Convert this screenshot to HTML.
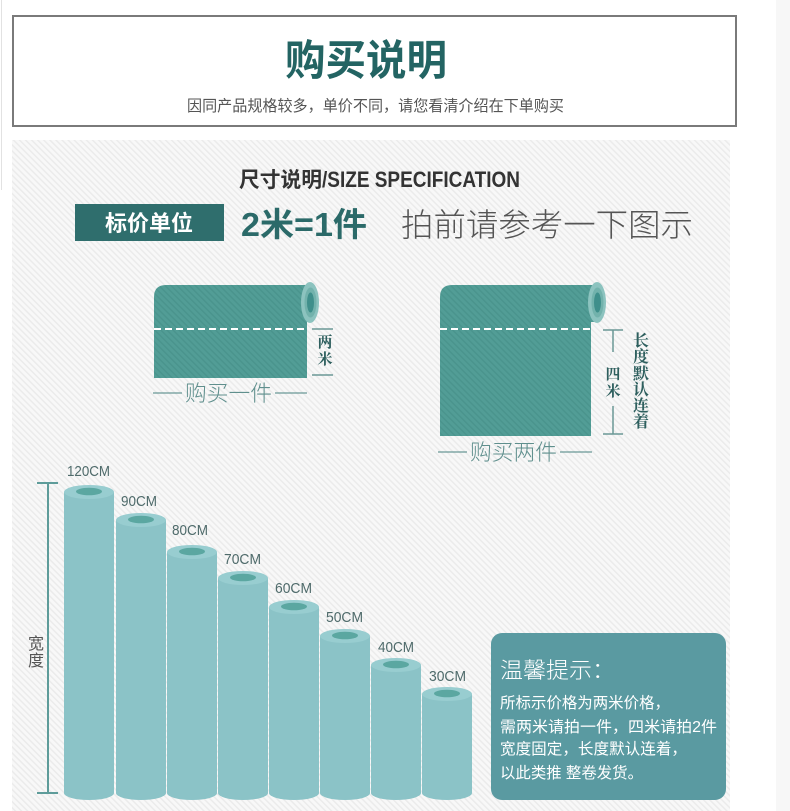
<!DOCTYPE html>
<html><head><meta charset="utf-8"><style>
html,body{margin:0;padding:0;background:#fff;}
body{width:790px;height:811px;overflow:hidden;}
svg{display:block;}
text{font-family:"Liberation Sans","Noto Sans CJK SC",sans-serif;}
.serif{font-family:"Liberation Serif","Noto Serif CJK SC",serif;font-weight:bold;}
</style></head><body>
<svg width="790" height="811" viewBox="0 0 790 811" xmlns="http://www.w3.org/2000/svg">
<defs>
<pattern id="hatch" patternUnits="userSpaceOnUse" width="4.3" height="10" patternTransform="rotate(-45)">
<rect width="4.3" height="10" fill="#f8f8f8"/>
<rect x="0" y="0" width="1.5" height="10" fill="#ebebeb"/>
</pattern>
<pattern id="rollhatch" patternUnits="userSpaceOnUse" width="4.3" height="10" patternTransform="rotate(-45)">
<rect width="4.3" height="10" fill="#529d96"/>
<rect x="0" y="0" width="1.5" height="10" fill="#4a948d"/>
</pattern>
</defs>

<!-- page background -->
<rect x="0" y="0" width="790" height="811" fill="#ffffff"/>
<rect x="776" y="0" width="14" height="811" fill="#f7f7f7"/>
<rect x="1" y="0" width="1" height="190" fill="#e2e2e2"/>

<!-- header box -->
<rect x="13" y="16" width="723" height="110" fill="#ffffff" stroke="#7a7a7a" stroke-width="2"/>
<text x="285" y="75" font-size="42" font-weight="bold" fill="#236463" textLength="162" lengthAdjust="spacingAndGlyphs">购买说明</text>
<text x="187" y="111" font-size="15.5" fill="#555555" textLength="377" lengthAdjust="spacingAndGlyphs">因同产品规格较多，单价不同，请您看清介绍在下单购买</text>

<!-- hatched area -->
<rect x="12" y="140" width="718" height="671" fill="url(#hatch)"/>

<!-- size spec title -->
<text x="239" y="187" font-size="21" font-weight="bold" fill="#333333" textLength="83" lengthAdjust="spacingAndGlyphs">尺寸说明</text>
<text x="322" y="187" font-size="22" font-weight="bold" fill="#333333" textLength="198" lengthAdjust="spacingAndGlyphs">/SIZE SPECIFICATION</text>

<!-- price unit row -->
<rect x="75" y="204" width="149" height="37" fill="#2f6e6d"/>
<text x="105" y="231" font-size="22" font-weight="bold" fill="#ffffff" textLength="88" lengthAdjust="spacingAndGlyphs">标价单位</text>
<text x="241" y="236" font-size="33" font-weight="bold" fill="#2b6a69" textLength="126" lengthAdjust="spacingAndGlyphs">2米=1件</text>
<text x="401" y="236" font-size="32" font-weight="300" fill="#555555" textLength="292" lengthAdjust="spacingAndGlyphs">拍前请参考一下图示</text>

<!-- roll 1 -->
<path d="M154,378 V297 Q154,285 166,285 H311 V322 H307 V378 Z" fill="url(#rollhatch)"/>
<ellipse cx="310" cy="302.5" rx="9" ry="20.5" fill="#8cc3bf"/>
<ellipse cx="310.5" cy="302.5" rx="6" ry="15" fill="#72b2ac"/>
<ellipse cx="310.5" cy="302.5" rx="3.5" ry="10" fill="#3f8f8b"/>
<line x1="154" y1="329" x2="307" y2="329" stroke="#ffffff" stroke-width="2" stroke-dasharray="7 4"/>
<line x1="312" y1="329" x2="333" y2="329" stroke="#6a9896" stroke-width="1.5"/>
<line x1="312" y1="375" x2="333" y2="375" stroke="#6a9896" stroke-width="1.5"/>
<text class="serif" x="325" y="347" font-size="15" fill="#2e5f5e" text-anchor="middle">两</text>
<text class="serif" x="325" y="364" font-size="15" fill="#2e5f5e" text-anchor="middle">米</text>
<line x1="153" y1="393" x2="182" y2="393" stroke="#6a9896" stroke-width="1.3"/>
<line x1="275" y1="393" x2="307" y2="393" stroke="#6a9896" stroke-width="1.3"/>
<text x="185" y="401" font-size="22" font-weight="300" fill="#5f8f8d" textLength="87" lengthAdjust="spacingAndGlyphs">购买一件</text>

<!-- roll 2 -->
<path d="M440,436 V297 Q440,285 452,285 H597 V322 H591 V436 Z" fill="url(#rollhatch)"/>
<ellipse cx="597" cy="302.5" rx="9" ry="20.5" fill="#8cc3bf"/>
<ellipse cx="597.5" cy="302.5" rx="6" ry="15" fill="#72b2ac"/>
<ellipse cx="597.5" cy="302.5" rx="3.5" ry="10" fill="#3f8f8b"/>
<line x1="440" y1="329" x2="591" y2="329" stroke="#ffffff" stroke-width="2" stroke-dasharray="7 4"/>
<line x1="603" y1="330" x2="623" y2="330" stroke="#6a9896" stroke-width="1.5"/>
<line x1="603" y1="434" x2="623" y2="434" stroke="#6a9896" stroke-width="1.5"/>
<line x1="613" y1="330" x2="613" y2="352" stroke="#6a9896" stroke-width="1.5"/>
<line x1="613" y1="406" x2="613" y2="434" stroke="#6a9896" stroke-width="1.5"/>
<text class="serif" x="613" y="379" font-size="15" fill="#2e5f5e" text-anchor="middle">四</text>
<text class="serif" x="613" y="396" font-size="15" fill="#2e5f5e" text-anchor="middle">米</text>
<text class="serif" x="641" y="346" font-size="16" fill="#2e5f5e" text-anchor="middle">长</text>
<text class="serif" x="641" y="362" font-size="16" fill="#2e5f5e" text-anchor="middle">度</text>
<text class="serif" x="641" y="379" font-size="16" fill="#2e5f5e" text-anchor="middle">默</text>
<text class="serif" x="641" y="395" font-size="16" fill="#2e5f5e" text-anchor="middle">认</text>
<text class="serif" x="641" y="411" font-size="16" fill="#2e5f5e" text-anchor="middle">连</text>
<text class="serif" x="641" y="427" font-size="16" fill="#2e5f5e" text-anchor="middle">着</text>
<line x1="438" y1="452" x2="467" y2="452" stroke="#6a9896" stroke-width="1.3"/>
<line x1="560" y1="452" x2="592" y2="452" stroke="#6a9896" stroke-width="1.3"/>
<text x="470" y="460" font-size="22" font-weight="300" fill="#5f8f8d" textLength="87" lengthAdjust="spacingAndGlyphs">购买两件</text>

<!-- width axis -->
<line x1="48" y1="483" x2="48" y2="793" stroke="#5e9c9a" stroke-width="2"/>
<line x1="37" y1="483" x2="58" y2="483" stroke="#5e9c9a" stroke-width="2"/>
<line x1="37" y1="793" x2="58" y2="793" stroke="#5e9c9a" stroke-width="2"/>
<text x="36" y="649" font-size="16" fill="#555555" text-anchor="middle">宽</text>
<text x="36" y="666" font-size="16" fill="#555555" text-anchor="middle">度</text>

<!-- cylinders -->
<g>
<path d="M64,492 V793 A25,7 0 0 0 114,793 V492 Z" fill="#8bc3c7"/>
<ellipse cx="89" cy="492" rx="25" ry="7" fill="#98cdd0"/>
<ellipse cx="89" cy="491.5" rx="13" ry="3.8" fill="#5ba7a1"/>

<path d="M116,520 V793 A25,7 0 0 0 166,793 V520 Z" fill="#8bc3c7"/>
<ellipse cx="141" cy="520" rx="25" ry="7" fill="#98cdd0"/>
<ellipse cx="141" cy="519.5" rx="13" ry="3.8" fill="#5ba7a1"/>

<path d="M167,552 V793 A25,7 0 0 0 217,793 V552 Z" fill="#8bc3c7"/>
<ellipse cx="192" cy="552" rx="25" ry="7" fill="#98cdd0"/>
<ellipse cx="192" cy="551.5" rx="13" ry="3.8" fill="#5ba7a1"/>

<path d="M218,578 V793 A25,7 0 0 0 268,793 V578 Z" fill="#8bc3c7"/>
<ellipse cx="243" cy="578" rx="25" ry="7" fill="#98cdd0"/>
<ellipse cx="243" cy="577.5" rx="13" ry="3.8" fill="#5ba7a1"/>

<path d="M269,607 V793 A25,7 0 0 0 319,793 V607 Z" fill="#8bc3c7"/>
<ellipse cx="294" cy="607" rx="25" ry="7" fill="#98cdd0"/>
<ellipse cx="294" cy="606.5" rx="13" ry="3.8" fill="#5ba7a1"/>

<path d="M320,636 V793 A25,7 0 0 0 370,793 V636 Z" fill="#8bc3c7"/>
<ellipse cx="345" cy="636" rx="25" ry="7" fill="#98cdd0"/>
<ellipse cx="345" cy="635.5" rx="13" ry="3.8" fill="#5ba7a1"/>

<path d="M371,665 V793 A25,7 0 0 0 421,793 V665 Z" fill="#8bc3c7"/>
<ellipse cx="396" cy="665" rx="25" ry="7" fill="#98cdd0"/>
<ellipse cx="396" cy="664.5" rx="13" ry="3.8" fill="#5ba7a1"/>

<path d="M422,694 V793 A25,7 0 0 0 472,793 V694 Z" fill="#8bc3c7"/>
<ellipse cx="447" cy="694" rx="25" ry="7" fill="#98cdd0"/>
<ellipse cx="447" cy="693.5" rx="13" ry="3.8" fill="#5ba7a1"/>
</g>

<!-- cylinder labels -->
<g font-size="15" fill="#4f6b6b">
<text x="67" y="476" textLength="43" lengthAdjust="spacingAndGlyphs">120CM</text>
<text x="121" y="506" textLength="36" lengthAdjust="spacingAndGlyphs">90CM</text>
<text x="172" y="535" textLength="36" lengthAdjust="spacingAndGlyphs">80CM</text>
<text x="224" y="564" textLength="37" lengthAdjust="spacingAndGlyphs">70CM</text>
<text x="275" y="593" textLength="37" lengthAdjust="spacingAndGlyphs">60CM</text>
<text x="326" y="622" textLength="37" lengthAdjust="spacingAndGlyphs">50CM</text>
<text x="378" y="652" textLength="36" lengthAdjust="spacingAndGlyphs">40CM</text>
<text x="429" y="681" textLength="37" lengthAdjust="spacingAndGlyphs">30CM</text>
</g>

<!-- tip box -->
<rect x="491" y="633" width="235" height="167" rx="11" ry="11" fill="#5a9aa1"/>
<text x="500" y="678" font-size="22" font-weight="300" fill="#ffffff" textLength="115" lengthAdjust="spacingAndGlyphs">温馨提示：</text>
<text x="500" y="708" font-size="15.5" fill="#ffffff" textLength="170" lengthAdjust="spacingAndGlyphs">所标示价格为两米价格，</text>
<text x="500" y="732" font-size="15.5" fill="#ffffff" textLength="217" lengthAdjust="spacingAndGlyphs">需两米请拍一件，四米请拍2件</text>
<text x="500" y="754" font-size="15.5" fill="#ffffff" textLength="187" lengthAdjust="spacingAndGlyphs">宽度固定，长度默认连着，</text>
<text x="500" y="778" font-size="15.5" fill="#ffffff" textLength="143" lengthAdjust="spacingAndGlyphs">以此类推 整卷发货。</text>
</svg>
</body></html>
